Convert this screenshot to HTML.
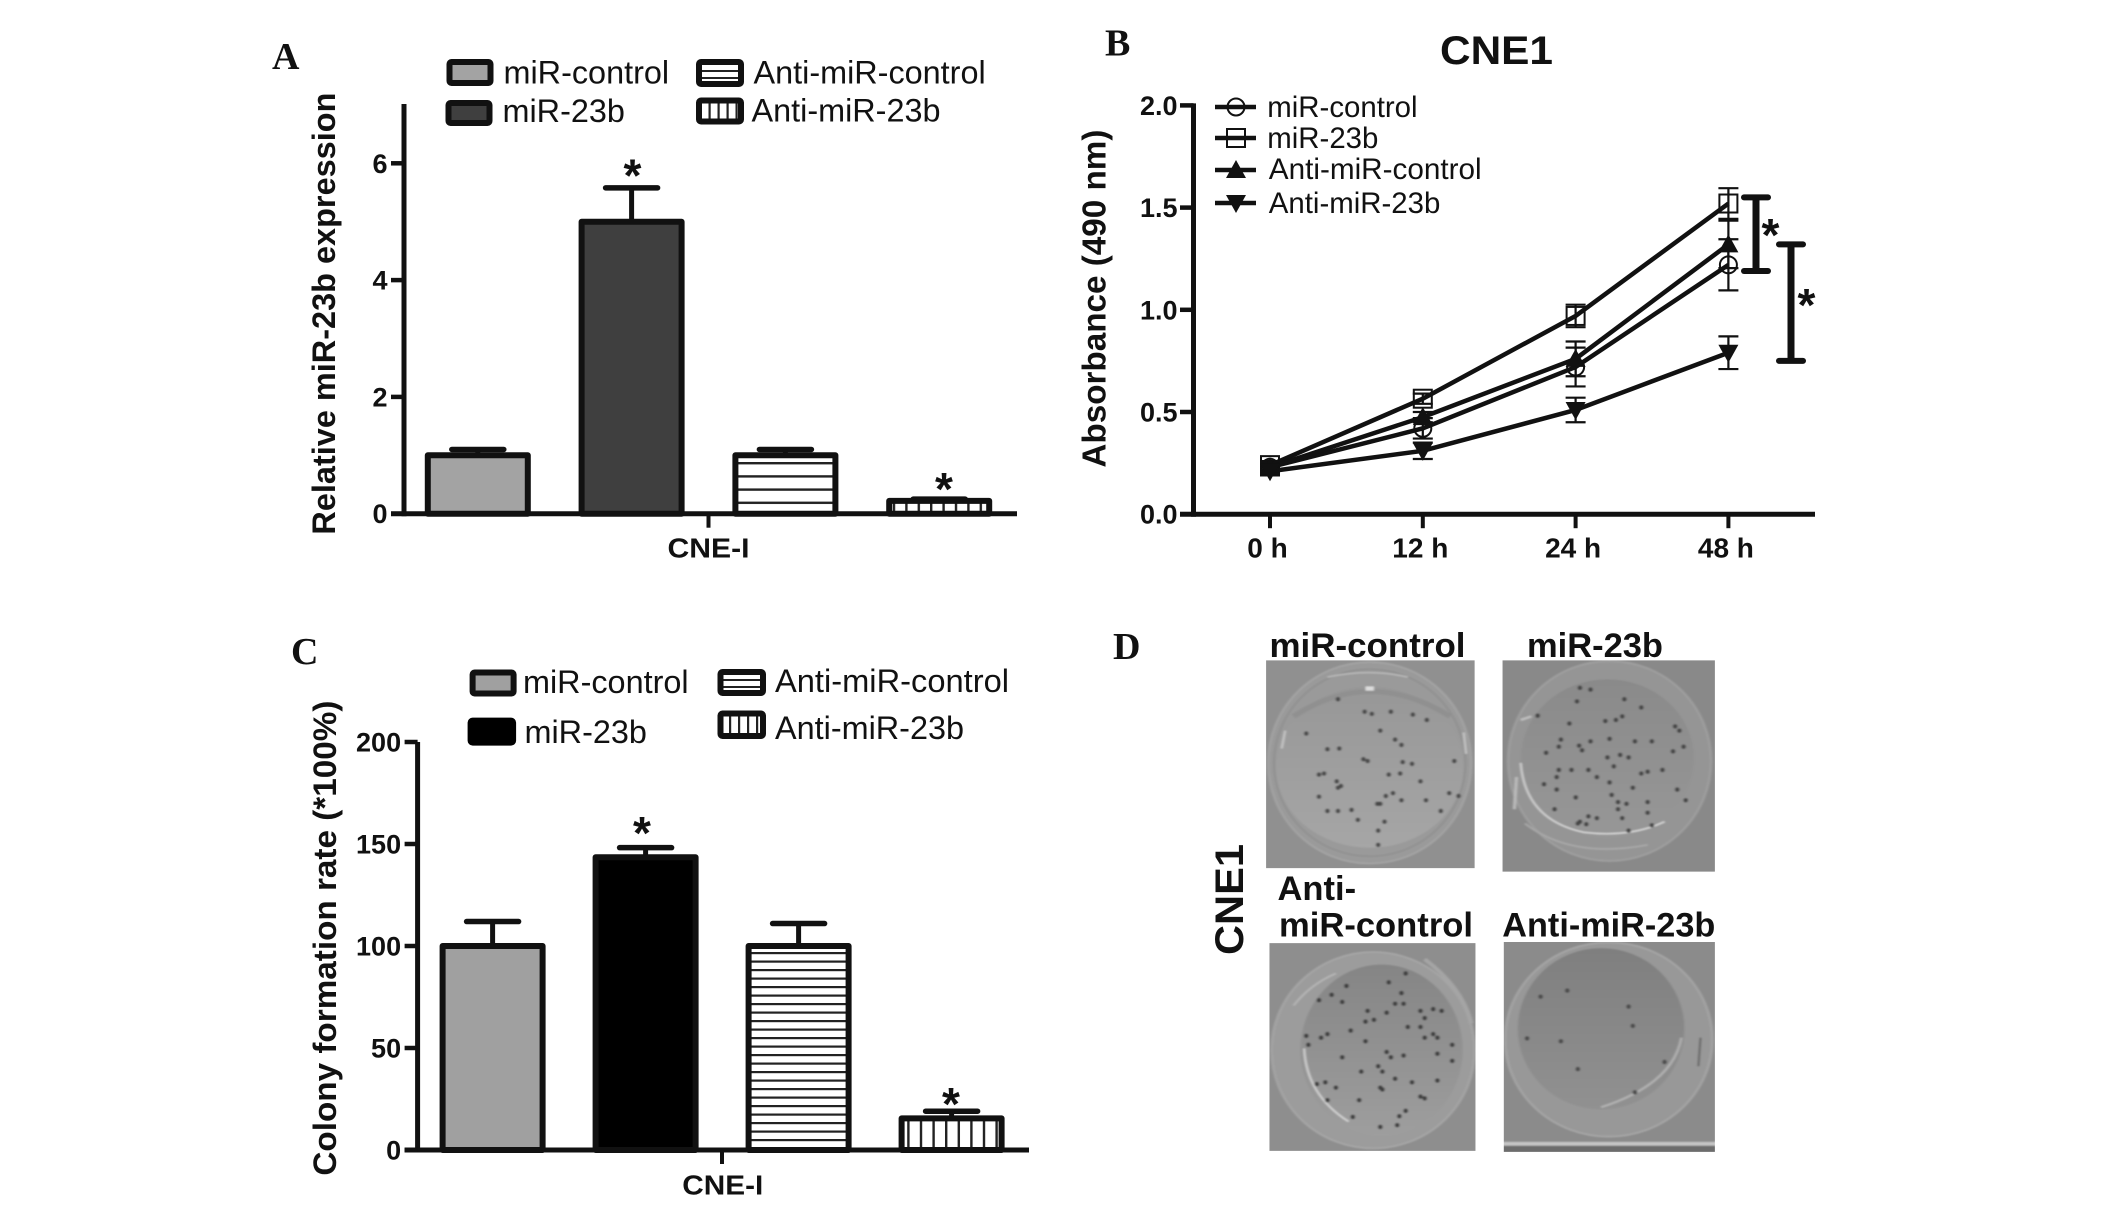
<!DOCTYPE html>
<html lang="en">
<head>
<meta charset="utf-8">
<title>miR-23b CNE1 figure</title>
<style>
html,body{margin:0;padding:0;background:#fff;width:2126px;height:1208px;overflow:hidden}
svg{display:block}
text{font-family:"Liberation Sans",Arial,sans-serif;fill:#111}
.b{font-weight:700}
.leg{font-size:32.4px}
.lab{font-family:"Liberation Serif","Times New Roman",serif;font-weight:700;font-size:38px}
.ast{font-weight:700;font-size:46px;text-anchor:middle}
.plate-t{font-weight:700;font-size:34.5px}
</style>
</head>
<body>
<svg id="figure" xmlns="http://www.w3.org/2000/svg" width="2126" height="1208" viewBox="0 0 2126 1208">
<defs>
<pattern id="hatch-h-a" patternUnits="userSpaceOnUse" width="8" height="13.2" y="0"><rect width="8" height="13.2" fill="#fff"/><rect width="8" height="2.4" fill="#222"/></pattern>
<pattern id="hatch-v-a" patternUnits="userSpaceOnUse" width="12.4" height="8"><rect width="12.4" height="8" fill="#fff"/><rect width="2.4" height="8" fill="#222"/></pattern>
<pattern id="hatch-h-c" patternUnits="userSpaceOnUse" width="8" height="8.5"><rect width="8" height="8.5" fill="#fff"/><rect width="8" height="2.2" fill="#222"/></pattern>
<pattern id="hatch-v-c" patternUnits="userSpaceOnUse" width="12.6" height="8"><rect width="12.6" height="8" fill="#fff"/><rect width="2.4" height="8" fill="#222"/></pattern>
<pattern id="hatch-h-leg" patternUnits="userSpaceOnUse" width="8" height="7"><rect width="8" height="7" fill="#fff"/><rect width="8" height="2" fill="#222"/></pattern>
<pattern id="hatch-v-leg" patternUnits="userSpaceOnUse" width="9" height="8"><rect width="9" height="8" fill="#fff"/><rect width="2.2" height="8" fill="#222"/></pattern>
<linearGradient id="dish1" x1="0" y1="0" x2="0" y2="1"><stop offset="0" stop-color="#979797"/><stop offset="1" stop-color="#a6a6a6"/></linearGradient>
<linearGradient id="dish2" x1="0" y1="0" x2="0" y2="1"><stop offset="0" stop-color="#8a8a8a"/><stop offset="1" stop-color="#979797"/></linearGradient>
<linearGradient id="dish3" x1="0" y1="0" x2="0" y2="1"><stop offset="0" stop-color="#858585"/><stop offset="1" stop-color="#9e9e9e"/></linearGradient>
<linearGradient id="dish4" x1="0" y1="0" x2="0" y2="1"><stop offset="0" stop-color="#7f7f7f"/><stop offset="1" stop-color="#919191"/></linearGradient>
<filter id="photo-blur" x="-2%" y="-2%" width="104%" height="104%"><feGaussianBlur stdDeviation="2.6 2.2"/></filter>
<clipPath id="clip-p1"><rect x="395" y="113" width="493" height="582"/></clipPath>
<clipPath id="clip-p2"><rect x="957" y="113" width="502" height="592"/></clipPath>
<clipPath id="clip-p3"><rect x="403" y="905" width="487" height="582"/></clipPath>
<clipPath id="clip-p4"><rect x="960" y="902" width="499" height="588"/></clipPath>
</defs>

<!-- Panel letters -->
<text class="lab" x="272" y="69">A</text>
<text class="lab" x="1105" y="55.5">B</text>
<text class="lab" x="291" y="664">C</text>
<text class="lab" x="1113" y="659">D</text>

<!-- Panel A static -->
<g id="panel-a">
  <text class="b" transform="translate(335,534.6) rotate(-90)" font-size="32.5" textLength="442" lengthAdjust="spacingAndGlyphs">Relative miR-23b expression</text>
  <text class="b" x="667.5" y="557.5" font-size="28" textLength="82" lengthAdjust="spacingAndGlyphs">CNE-I</text>
  <g transform="translate(-2.5,0)">
    <rect x="452" y="62" width="41" height="21" rx="2" fill="#a3a3a3" stroke="#111" stroke-width="6"/>
    <rect x="451" y="103" width="41" height="20" rx="2" fill="#3f3f3f" stroke="#111" stroke-width="6"/>
    <rect x="701.5" y="62" width="42" height="22" rx="2" fill="url(#hatch-h-leg)" stroke="#111" stroke-width="6"/>
    <rect x="701.5" y="100.5" width="42" height="21" rx="2" fill="url(#hatch-v-leg)" stroke="#111" stroke-width="6"/>
    <text class="leg" x="506" y="83.5">miR-control</text>
    <text class="leg" x="505" y="122">miR-23b</text>
    <text class="leg" x="756" y="83.5">Anti-miR-control</text>
    <text class="leg" x="754" y="121.5">Anti-miR-23b</text>
  </g>
  <text class="ast" x="632.5" y="191.5">*</text>
  <text class="ast" x="944" y="505">*</text>
</g>

<!-- Panel B static -->
<g id="panel-b">
  <text class="b" x="1440" y="64" font-size="40" textLength="113" lengthAdjust="spacingAndGlyphs">CNE1</text>
  <text class="b" transform="translate(1105.5,467.6) rotate(-90)" font-size="33" textLength="338" lengthAdjust="spacingAndGlyphs">Absorbance (490 nm)</text>
  <g>
    <text x="1267.3" y="117" font-size="29.4">miR-control</text>
    <text x="1267.3" y="148" font-size="29.4">miR-23b</text>
    <text x="1268.8" y="179" font-size="29.7">Anti-miR-control</text>
    <text x="1268.8" y="213" font-size="29.4">Anti-miR-23b</text>
  </g>
  <text class="ast" x="1780" y="251" dx="-9.5">*</text>
  <text class="ast" x="1816" y="321" dx="-9.5">*</text>
</g>

<!-- Panel C static -->
<g id="panel-c">
  <text class="b" transform="translate(336,1175.6) rotate(-90)" font-size="32.5" textLength="475" lengthAdjust="spacingAndGlyphs">Colony formation rate (*100%)</text>
  <text class="b" x="682.3" y="1194.3" font-size="28" textLength="81" lengthAdjust="spacingAndGlyphs">CNE-I</text>
  <g>
    <rect x="472.6" y="672.5" width="41" height="21" rx="2" fill="#a0a0a0" stroke="#111" stroke-width="6"/>
    <rect x="470.6" y="720.6" width="42.5" height="22" rx="2" fill="#000" stroke="#000" stroke-width="6"/>
    <rect x="720.5" y="672" width="42.5" height="21" rx="2" fill="url(#hatch-h-leg)" stroke="#111" stroke-width="6"/>
    <rect x="720.5" y="713.5" width="42.5" height="22.5" rx="2" fill="url(#hatch-v-leg)" stroke="#111" stroke-width="6"/>
    <text class="leg" x="523" y="693">miR-control</text>
    <text class="leg" x="524.5" y="743">miR-23b</text>
    <text class="leg" x="775" y="692" textLength="234" lengthAdjust="spacingAndGlyphs">Anti-miR-control</text>
    <text class="leg" x="775" y="739">Anti-miR-23b</text>
  </g>
  <text class="ast" x="642" y="849">*</text>
  <text class="ast" x="951" y="1120">*</text>
</g>

<!-- Panel D -->
<g id="panel-d">
  <text class="plate-t" x="1269.5" y="657" textLength="196" lengthAdjust="spacingAndGlyphs">miR-control</text>
  <text class="plate-t" x="1527" y="657" textLength="136" lengthAdjust="spacingAndGlyphs">miR-23b</text>
  <text class="plate-t" x="1277.5" y="900">Anti-</text>
  <text class="plate-t" x="1279" y="936.5" textLength="194" lengthAdjust="spacingAndGlyphs">miR-control</text>
  <text class="plate-t" x="1502.3" y="936.5" textLength="213" lengthAdjust="spacingAndGlyphs">Anti-miR-23b</text>
  <text class="b" transform="translate(1243,955) rotate(-90)" font-size="40" textLength="111" lengthAdjust="spacingAndGlyphs">CNE1</text>

  <!-- plates drawn in a scaled coordinate frame -->
  <g id="plates" transform="translate(1099,620) scale(0.423,0.357)">
    <g clip-path="url(#clip-p1)"><g id="plate-1" filter="url(#photo-blur)">
      <rect x="385" y="103" width="513" height="602" fill="#909090"/>
      <ellipse cx="640" cy="400" rx="240" ry="282" fill="#9a9a9a" stroke="#a4a4a4" stroke-width="5"/>
      <ellipse cx="640" cy="400" rx="226" ry="262" fill="none" stroke="#8f8f8f" stroke-width="4"/>
      <ellipse cx="640" cy="412" rx="222" ry="226" fill="url(#dish1)"/>
      <path d="M460 270 Q640 130 830 270" fill="none" stroke="#909090" stroke-width="14"/>
      <path d="M540 160 Q640 135 730 160" fill="none" stroke="#b5b5b5" stroke-width="5"/>
      <rect x="630" y="186" width="20" height="12" fill="#dcdcdc"/>
      <path d="M440 310 L432 360 M862 315 L868 375" fill="none" stroke="#c8c8c8" stroke-width="5"/>
    </g></g>
    <g transform="translate(-3,0)"><g clip-path="url(#clip-p2)"><g id="plate-2" filter="url(#photo-blur)">
      <rect x="947" y="103" width="522" height="612" fill="#898989"/>
      <ellipse cx="1210" cy="395" rx="240" ry="280" fill="#959595" stroke="#9f9f9f" stroke-width="5"/>
      <ellipse cx="1205" cy="388" rx="205" ry="222" fill="url(#dish2)"/>
      <path d="M1000 400 Q1010 560 1150 595 Q1260 610 1340 565" fill="none" stroke="#cfcfcf" stroke-width="5"/>
      <path d="M1000 280 L1025 270 M990 440 L985 530" fill="none" stroke="#bcbcbc" stroke-width="7"/>
      <path d="M1010 570 Q1120 670 1300 630" fill="none" stroke="#a8a8a8" stroke-width="5"/>
    </g></g></g>
    <g clip-path="url(#clip-p3)"><g id="plate-3" filter="url(#photo-blur)">
      <rect x="393" y="895" width="507" height="602" fill="#8e8e8e"/>
      <ellipse cx="648" cy="1205" rx="240" ry="275" fill="#9c9c9c" stroke="#a6a6a6" stroke-width="5"/>
      <ellipse cx="668" cy="1205" rx="192" ry="240" fill="url(#dish3)"/>
      <path d="M485 1200 Q490 1330 590 1405" fill="none" stroke="#d2d2d2" stroke-width="5"/>
      <path d="M460 1080 Q500 1020 560 990" fill="none" stroke="#b5b5b5" stroke-width="5"/>
      <path d="M770 950 Q860 1030 880 1130" fill="none" stroke="#a5a5a5" stroke-width="10"/>
    </g></g>
    <g transform="translate(-3,0)"><g clip-path="url(#clip-p4)"><g id="plate-4" filter="url(#photo-blur)">
      <rect x="950" y="892" width="519" height="608" fill="#8b8b8b"/>
      <ellipse cx="1208" cy="1175" rx="245" ry="272" fill="#989898" stroke="#a6a6a6" stroke-width="5"/>
      <ellipse cx="1190" cy="1145" rx="197" ry="226" fill="url(#dish4)"/>
      <path d="M1380 1170 Q1360 1300 1190 1365" fill="none" stroke="#b0b0b0" stroke-width="6"/>
      <path d="M1425 1170 L1420 1250" fill="none" stroke="#555" stroke-width="4"/>
      <rect x="950" y="1462" width="519" height="10" fill="#c4c4c4"/>
      <rect x="950" y="1474" width="519" height="26" fill="#6c6c6c"/>
    </g></g></g>
  </g>
</g>

<script>
/* ---------- Panel A data ---------- */
const categoriesA = ['miR-control', 'miR-23b', 'Anti-miR-control', 'Anti-miR-23b'];
const valuesA = [1, 5, 1, 0.22];
const errorsA = [0.1, 0.58, 0.1, 0.03];
const ticksA = [0, 2, 4, 6];

/* ---------- Panel C data ---------- */
const categoriesC = ['miR-control', 'miR-23b', 'Anti-miR-control', 'Anti-miR-23b'];
const valuesC = [100, 143.5, 100, 15.5];
const errorsC = [12, 4.7, 11, 3.5];
const ticksC = [0, 50, 100, 150, 200];

/* ---------- Panel B data ---------- */
const timepointsB = ['0 h', '12 h', '24 h', '48 h'];
const ticksB = ['0.0', '0.5', '1.0', '1.5', '2.0'];
const seriesNamesB = ['miR-control', 'miR-23b', 'Anti-miR-control', 'Anti-miR-23b'];
const miRControlValues = [0.23, 0.42, 0.72, 1.22];
const miRControlErrors = [0.02, 0.05, 0.095, 0.125];
const miR23bValues = [0.24, 0.565, 0.97, 1.52];
const miR23bErrors = [0.02, 0.025, 0.055, 0.075];
const antiControlValues = [0.23, 0.475, 0.76, 1.32];
const antiControlErrors = [0.02, 0.025, 0.085, 0.116];
const anti23bValues = [0.21, 0.31, 0.51, 0.79];
const anti23bErrors = [0.02, 0.04, 0.06, 0.08];
const bracketTopsB = [1.55, 1.32];
const bracketBottomsB = [1.19, 0.75];

/* ---------- Panel D colony spots (read from the plates) ---------- */
const colonies1 = [[490,318],[565,222],[628,257],[645,263],[690,257],[742,265],[775,280],[665,310],[700,335],[715,350],[540,362],[568,360],[625,390],[635,395],[718,398],[740,403],[520,433],[532,430],[685,433],[712,430],[562,452],[572,465],[565,470],[760,452],[520,495],[695,485],[678,493],[658,515],[665,515],[715,505],[773,505],[828,485],[850,493],[808,535],[540,535],[565,535],[597,532],[612,560],[675,565],[660,590],[660,630],[840,395]];
const colonies2 = [[1140,190],[1165,195],[1133,228],[1245,222],[1285,245],[1040,268],[1200,283],[1225,280],[1240,270],[1115,290],[1365,298],[1375,310],[1095,335],[1090,355],[1138,352],[1165,340],[1210,333],[1270,340],[1310,340],[1385,355],[1360,368],[1060,372],[1145,365],[1235,378],[1205,385],[1255,385],[1120,420],[1090,420],[1085,440],[1160,420],[1220,410],[1300,425],[1285,430],[1335,420],[1180,440],[1210,455],[1055,460],[1085,475],[1265,470],[1370,475],[1215,490],[1130,497],[1230,510],[1250,515],[1390,505],[1230,530],[1300,510],[1080,530],[1160,550],[1180,555],[1140,565],[1240,555],[1300,540],[1255,590],[1310,575],[1135,570],[1155,572]];
const colonies3 = [[585,1025],[685,1015],[725,990],[715,1045],[550,1050],[575,1070],[520,1065],[700,1075],[720,1075],[790,1090],[760,1095],[810,1095],[635,1095],[630,1125],[650,1120],[540,1160],[525,1170],[490,1165],[495,1190],[595,1150],[730,1140],[760,1140],[790,1160],[800,1170],[770,1170],[835,1190],[680,1210],[690,1225],[575,1225],[800,1215],[720,1220],[835,1235],[660,1250],[620,1265],[670,1265],[700,1285],[740,1295],[665,1310],[535,1295],[515,1300],[560,1310],[540,1345],[670,1315],[760,1335],[770,1340],[800,1290],[615,1345],[725,1375],[710,1390],[600,1392],[665,1420],[705,1415],[680,1100],[770,1115],[630,1180]];
const colonies4 = [[1047,1055],[1110,1038],[1255,1083],[1015,1172],[1265,1137],[1340,1238],[1270,1323],[1135,1258],[1095,1180]];

const NS = 'http://www.w3.org/2000/svg';
function make(tag, attrs, parent) {
  const el = document.createElementNS(NS, tag);
  for (const k in attrs) el.setAttribute(k, attrs[k]);
  parent.appendChild(el);
  return el;
}
const INK = '#111';

/* ---------- Axis functions ---------- */
const yA = v => 513.7 - v * 58.4;
const xA = i => 477.8 + i * 153.8;
const yC = v => 1150 - v * 2.04;
const xC = i => 492.6 + i * 153;
const yB = v => 514.2 - v * 204.4;
const xB = i => 1270 + i * 152.8;

/* ---------- Bar charts ---------- */
function drawBarChart(groupId, prefix, values, errors, ticks, xf, yf, fills, axis) {
  const g = document.getElementById(groupId);
  values.forEach((v, i) => {
    const cx = xf(i);
    const cap = make('line', {x1: cx - 26, x2: cx + 26, y1: yf(v + errors[i]), y2: yf(v + errors[i]), stroke: INK, 'stroke-width': 5.5, 'stroke-linecap': 'round'}, g);
    
    
    const stem = make('line', {x1: cx, x2: cx, y1: yf(v), y2: yf(v + errors[i]), stroke: INK, 'stroke-width': 5}, g);
    
    
    const bar = make('rect', {x: cx - 50, y: yf(v), width: 100, height: yf(0) - yf(v), fill: fills[i], stroke: INK, 'stroke-width': 6, 'stroke-linejoin': 'round'}, g);
    
    
  });
  const yLine = make('line', {x1: axis.x, x2: axis.x, y1: axis.top, y2: yf(0) + 2.5, stroke: INK, 'stroke-width': 5}, g);
  
  
  const xLine = make('line', {x1: axis.left, x2: axis.right, y1: yf(0), y2: yf(0), stroke: INK, 'stroke-width': 5}, g);
  
  
  const xTick = make('line', {x1: axis.tickX, x2: axis.tickX, y1: yf(0), y2: yf(0) + 14, stroke: INK, 'stroke-width': 4}, g);
  
  
  ticks.forEach(t => {
    const tick = make('line', {x1: axis.x - 13, x2: axis.x, y1: yf(t), y2: yf(t), stroke: INK, 'stroke-width': 4.5}, g);
    
    
    const label = make('text', {x: axis.x - 16.5, y: yf(t) + 9.5, 'text-anchor': 'end', 'font-size': 27, 'font-weight': 700}, g);
    label.textContent = t;
    
    
  });
}
drawBarChart('panel-a', 'a', valuesA, errorsA, ticksA, xA, yA,
  ['#a3a3a3', '#3f3f3f', 'url(#hatch-h-a)', 'url(#hatch-v-a)'],
  {x: 404, top: 104, left: 391, right: 1017, tickX: 708.5});
drawBarChart('panel-c', 'c', valuesC, errorsC, ticksC, xC, yC,
  ['#a0a0a0', '#000', 'url(#hatch-h-c)', 'url(#hatch-v-c)'],
  {x: 417.6, top: yC(200), left: 404.6, right: 1029, tickX: 722});

/* ---------- Line chart ---------- */
const gB = document.getElementById('panel-b');
const yAxisB = make('line', {x1: 1193.5, x2: 1193.5, y1: yB(2) - 2, y2: yB(0) + 2.5, stroke: INK, 'stroke-width': 5}, gB);


const xAxisB = make('line', {x1: 1180, x2: 1815, y1: yB(0), y2: yB(0), stroke: INK, 'stroke-width': 5}, gB);


ticksB.forEach(t => {
  const tick = make('line', {x1: 1180, x2: 1193.5, y1: yB(+t), y2: yB(+t), stroke: INK, 'stroke-width': 4.5}, gB);
  
  
  const label = make('text', {x: 1177.5, y: yB(+t) + 9.5, 'text-anchor': 'end', 'font-size': 27, 'font-weight': 700}, gB);
  label.textContent = t;
  
  
});
timepointsB.forEach((t, i) => {
  const tick = make('line', {x1: xB(i), x2: xB(i), y1: yB(0), y2: yB(0) + 14, stroke: INK, 'stroke-width': 4}, gB);
  
  
  const label = make('text', {x: xB(i) - 2.5, y: 557.5, 'text-anchor': 'middle', 'font-size': 28, 'font-weight': 700}, gB);
  label.textContent = t;
  
  
});

function drawMarker(kind, x, y, parent) {
  let m;
  if (kind === 'circle') {
    m = make('circle', {cx: x, cy: y, r: 8.5, fill: 'none', stroke: INK, 'stroke-width': 2}, parent);
  } else if (kind === 'square') {
    m = make('rect', {x: x - 9, y: y - 9, width: 18, height: 18, fill: 'none', stroke: INK, 'stroke-width': 2}, parent);
  } else if (kind === 'up') {
    m = make('polygon', {points: (x - 10) + ',' + (y + 8) + ' ' + (x + 10) + ',' + (y + 8) + ' ' + x + ',' + (y - 10), fill: INK}, parent);
  } else {
    m = make('polygon', {points: (x - 10) + ',' + (y - 8) + ' ' + (x + 10) + ',' + (y - 8) + ' ' + x + ',' + (y + 10), fill: INK}, parent);
  }
  
  
}
function drawSeries(values, errors, kind) {
  values.forEach((v, i) => {
    const e = errors[i];
    const stem = make('line', {x1: xB(i), x2: xB(i), y1: yB(v - e), y2: yB(v + e), stroke: INK, 'stroke-width': 2.2}, gB);
    
    
    [v - e, v + e].forEach(w => {
      const cap = make('line', {x1: xB(i) - 10, x2: xB(i) + 10, y1: yB(w), y2: yB(w), stroke: INK, 'stroke-width': 2.2}, gB);
      
      
    });
  });
  const pts = values.map((v, i) => xB(i) + ',' + yB(v)).join(' ');
  const line = make('polyline', {points: pts, fill: 'none', stroke: INK, 'stroke-width': 4.5}, gB);
  
  
  values.forEach((v, i) => drawMarker(kind, xB(i), yB(v), gB));
}
drawSeries(miRControlValues, miRControlErrors, 'circle');
drawSeries(miR23bValues, miR23bErrors, 'square');
drawSeries(antiControlValues, antiControlErrors, 'up');
drawSeries(anti23bValues, anti23bErrors, 'down');

/* legend keys for panel B */
const legendRowsB = [107, 138, 170, 203];
const legendKindsB = ['circle', 'square', 'up', 'down'];
seriesNamesB.forEach((name, i) => {
  const key = make('line', {x1: 1215, x2: 1256, y1: legendRowsB[i], y2: legendRowsB[i], stroke: INK, 'stroke-width': 4.5}, gB);
  
  
  drawMarker(legendKindsB[i], 1236, legendRowsB[i], gB);
});

/* significance brackets */
const bracketXs = [1767, 1802];
bracketTopsB.forEach((top, i) => {
  const x = bracketXs[i];
  const bottom = bracketBottomsB[i];
  const stem = make('line', {x1: x - 11, x2: x - 11, y1: yB(top), y2: yB(bottom), stroke: INK, 'stroke-width': 7}, gB);
  
  
  [top, bottom].forEach(w => {
    const cap = make('line', {x1: x - 23, x2: x + 1, y1: yB(w), y2: yB(w), stroke: INK, 'stroke-width': 6, 'stroke-linecap': 'round'}, gB);
    
    
  });
});

/* ---------- Plate colonies ---------- */
function drawColonies(id, spots, tone) {
  const g = document.getElementById(id);
  spots.forEach(s => {
    const c = make('ellipse', {cx: s[0], cy: s[1], rx: 5.5, ry: 6.5, fill: tone}, g);
    
    
  });
}
drawColonies('plate-1', colonies1, '#4a4a4a');
drawColonies('plate-2', colonies2, '#444');
drawColonies('plate-3', colonies3, '#3c3c3c');
drawColonies('plate-4', colonies4, '#4c4c4c');
</script>
</svg>
</body>
</html>
